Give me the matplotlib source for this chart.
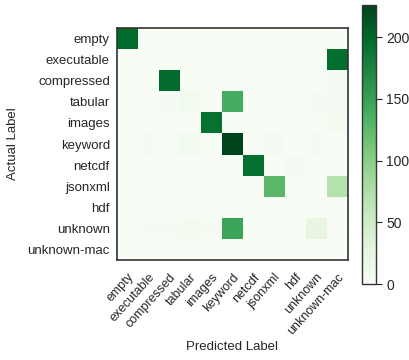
import numpy as np
import matplotlib
matplotlib.use("Agg")
import matplotlib.pyplot as plt
import seaborn as sns

sns.set_style("ticks")
plt.rcParams["font.family"] = ["Liberation Sans", "DejaVu Sans"]

labels = ["empty", "executable", "compressed", "tabular", "images", "keyword",
          "netcdf", "jsonxml", "hdf", "unknown", "unknown-mac"]

# rows: actual label, columns: predicted label
row_empty       = [198, 0, 0, 0, 0, 0, 0, 0, 0, 0, 0]
row_executable  = [0, 0, 0, 0, 0, 0, 0, 0, 0, 0, 195]
row_compressed  = [0, 0, 198, 0, 0, 0, 0, 0, 0, 0, 2]
row_tabular     = [0, 0, 2, 8, 0, 140, 0, 0, 0, 2, 2]
row_images      = [0, 0, 0, 0, 192, 0, 0, 0, 0, 0, 7]
row_keyword     = [0, 3, 0, 8, 0, 226, 0, 4, 0, 3, 0]
row_netcdf      = [0, 0, 0, 0, 0, 0, 193, 0, 4, 0, 0]
row_jsonxml     = [0, 0, 0, 0, 0, 0, 0, 127, 0, 0, 70]
row_hdf         = [0, 0, 0, 0, 0, 0, 0, 0, 0, 0, 0]
row_unknown     = [0, 2, 3, 7, 3, 147, 0, 0, 0, 25, 0]
row_unknown_mac = [0, 0, 0, 0, 0, 0, 0, 0, 0, 0, 0]

cm = np.array([row_empty, row_executable, row_compressed, row_tabular,
               row_images, row_keyword, row_netcdf, row_jsonxml, row_hdf,
               row_unknown, row_unknown_mac])

fig = plt.figure(figsize=(4.1, 3.6), dpi=100)
ax = fig.add_axes([0.285, 0.278, 0.563, 0.644])
cax = fig.add_axes([0.883, 0.211, 0.034, 0.775])

im = ax.imshow(cm, cmap="Greens", vmin=0, vmax=cm.max(), aspect="auto")
ax.set_xticks(range(len(labels)))
ax.set_yticks(range(len(labels)))
ax.set_xticklabels(labels, rotation=48, ha="right", rotation_mode="anchor", fontsize=9)
ax.set_yticklabels(labels, fontsize=9.5)
ax.tick_params(axis="y", length=0, pad=5)
ax.tick_params(axis="x", length=0, pad=8)
ax.set_xlabel("Predicted Label", fontsize=9.5, labelpad=3)
ax.set_ylabel("Actual Label", fontsize=9.5, labelpad=6)
for s in ax.spines.values():
    s.set_color("#333333")
    s.set_linewidth(1.2)

cb = fig.colorbar(im, cax=cax)
cb.set_ticks([0, 50, 100, 150, 200])
cb.ax.tick_params(labelsize=10, length=4)
cb.outline.set_edgecolor("#333333")
cb.outline.set_linewidth(1.0)

fig.savefig("out.png", dpi=100)
